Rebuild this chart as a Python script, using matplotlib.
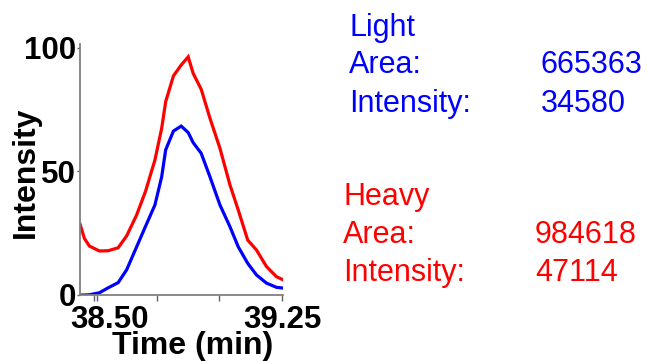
import matplotlib
matplotlib.use("Agg")
import matplotlib.pyplot as plt
import matplotlib.transforms as mtransforms

plt.rcParams['font.family'] = ['Liberation Sans', 'DejaVu Sans']

# retention time (min) and relative intensity of the two traces
time_min = [38.4425, 38.46, 38.48, 38.52, 38.555, 38.595, 38.629, 38.669, 38.705,
            38.742, 38.769, 38.785, 38.816, 38.847, 38.875, 38.895, 38.927, 38.962,
            39.002, 39.042, 39.075, 39.113, 39.148, 39.188, 39.228, 39.255]
heavy = [28.7, 22.9, 19.8, 17.8, 17.9, 19.1, 23.9, 32.4, 42.1, 54.6, 67.4, 78.2,
         88.6, 93.0, 96.3, 89.6, 83.2, 71.5, 59.3, 44.5, 34.4, 22.2, 18.2, 11.5,
         7.4, 6.1]
light = [0.0, 0.0, 0.1, 0.9, 2.9, 5.0, 10.2, 19.5, 27.9, 36.4, 47.8, 58.7, 66.3,
         68.3, 65.7, 61.6, 57.3, 47.8, 36.4, 27.6, 19.5, 12.8, 8.1, 4.8, 3.1, 2.8]

x_ticks = [38.50, 38.75, 39.00, 39.25]
x_tick_labels = ["38.50", "", "", "39.25"]
y_ticks = [0, 50, 100]

light_stats = {"Area:": "665363", "Intensity:": "34580"}
heavy_stats = {"Area:": "984618", "Intensity:": "47114"}

W, H = 651, 361
fig = plt.figure(figsize=(W / 100, H / 100), dpi=100)
ax = fig.add_axes([80 / W, 1 - 295 / H, 203 / W, 251 / H])

ax.plot(time_min, heavy, color="#ff0000", lw=2.3, solid_joinstyle="miter")
ax.plot(time_min, light, color="#0000ff", lw=2.3, solid_joinstyle="miter")

ax.set_xlim(38.4425, 39.254)
ax.set_ylim(0, 101.5)
ax.set_xticks(x_ticks)
ax.set_xticklabels(x_tick_labels)
ax.set_xticks([38.512], minor=True)
ax.set_yticks(y_ticks)
ax.set_yticklabels([str(v) for v in y_ticks])

for side in ("top", "right"):
    ax.spines[side].set_visible(False)
for side in ("left", "bottom"):
    ax.spines[side].set_color("#808080")
    ax.spines[side].set_linewidth(1.3)

ax.tick_params(axis="x", which="both", length=4, width=1, color="#606060",
               labelsize=22.5, pad=3)
ax.tick_params(axis="y", length=2, width=1, color="#606060", labelsize=22.5, pad=1)
for lbl in ax.get_xticklabels() + ax.get_yticklabels():
    lbl.set_fontweight("bold")

# nudge the first time label right so it clears the zero
first = ax.get_xticklabels()[0]
first.set_transform(first.get_transform() +
                    mtransforms.ScaledTranslation(0.15, 0, fig.dpi_scale_trans))

ax.set_xlabel("Time (min)", fontsize=23, fontweight="bold")
ax.xaxis.set_label_coords((192.5 - 80) / 203, -0.145)
ax.set_ylabel("Intensity", fontsize=23, fontweight="bold")
ax.yaxis.set_label_coords(-0.195, (295 - 172) / 251)


def put(x, y, s, color):
    fig.text(x / W, 1 - y / H, s, color=color, fontsize=22, va="baseline", ha="left")


put(349, 36, "Light", "#0000ff")
for (k, v), base in zip(light_stats.items(), [73, 111.7]):
    put(349, base, k, "#0000ff")
    put(541, base, v, "#0000ff")

put(343, 205, "Heavy", "#ff0000")
for (k, v), base in zip(heavy_stats.items(), [242.7, 281]):
    put(343, base, k, "#ff0000")
    put(535, base, v, "#ff0000")

fig.savefig("out.png", dpi=100)
